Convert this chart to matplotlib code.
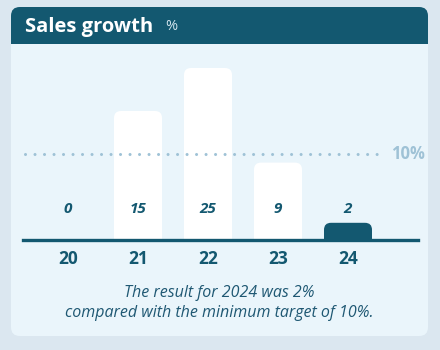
import numpy as np
import matplotlib.pyplot as plt
from matplotlib.patches import FancyBboxPatch, Rectangle

years = ['20', '21', '22', '23', '24']
growth = [0, 15, 25, 9, 2]
target = 10
display_cap = 20   # tallest bar is drawn capped
highlight = 4      # latest year

dark = '#135870'
card_bg = '#eaf5fb'
page_bg = '#dbe7f0'
ref_col = '#9fc2d6'

plt.rcParams['font.family'] = ['Open Sans', 'DejaVu Sans']

W, H = 440, 350
fig = plt.figure(figsize=(W / 100, H / 100), dpi=100)
fig.patch.set_facecolor(page_bg)

def fx(px): return px / W
def fy(py): return 1 - py / H

# card + header
card = FancyBboxPatch((fx(11), fy(336)), fx(417), (336 - 7) / H,
                      boxstyle='round,pad=0,rounding_size=0.02',
                      mutation_aspect=W / H, transform=fig.transFigure,
                      fc=card_bg, ec='none', zorder=-3)
fig.patches.append(card)
head = FancyBboxPatch((fx(11), fy(44)), fx(417), 37 / H,
                      boxstyle='round,pad=0,rounding_size=0.02',
                      mutation_aspect=W / H, transform=fig.transFigure,
                      fc=dark, ec='none', zorder=-2)
fig.patches.append(head)
fig.patches.append(Rectangle((fx(11), fy(44)), fx(417), 15 / H,
                             transform=fig.transFigure, fc=dark, ec='none',
                             zorder=-2))
fig.text(fx(25), fy(27), 'Sales growth', color='white', fontsize=14.5,
         fontweight='bold', va='center', ha='left')
fig.text(fx(165), fy(27), '%', color='#d5e6ef', fontsize=10.5,
         va='center', ha='left')

# bar area
ax = fig.add_axes([fx(23), 110 / H, fx(395), 196 / H])
ax.set_zorder(2)
ax.set_facecolor('none')
x = np.arange(len(years))
px_per_x, px_per_y = 70, 8.6
ax.set_xlim((23 - 68) / px_per_x, (418 - 68) / px_per_x)
ax.set_ylim(0, 196 / px_per_y)
for s in ax.spines.values():
    s.set_visible(False)
ax.set_yticks([])

bw = 48 / px_per_x
rad = 7 / px_per_x
heights = np.minimum(growth, display_cap)
for i, h in zip(x, heights):
    if h <= 0:
        continue
    fc = dark if i == highlight else 'white'
    ax.add_patch(FancyBboxPatch((i - bw / 2, -2), bw, h + 2,
                                boxstyle='round,pad=0,rounding_size=%g' % rad,
                                mutation_aspect=px_per_x / px_per_y,
                                fc=fc, ec='none', clip_on=True))

ax.axhline(0, color=dark, lw=2.4, zorder=3, clip_on=False)
ax.hlines(target, (25 - 68) / px_per_x, (385 - 68) / px_per_x, color=ref_col,
          lw=2.2, linestyles=[(0, (0.01, 3.1))], capstyle='round')
ax.text((391 - 68) / px_per_x, target, '%d%%' % target, color=ref_col,
        fontsize=12, fontweight='bold', va='center', ha='left')

for i, v in zip(x, growth):
    ax.text(i, 31 / px_per_y, str(v), color=dark, fontsize=11,
            fontweight='bold', fontstyle='italic', ha='center', va='center')

ax.set_xticks(x, years)
ax.tick_params(axis='x', length=0, pad=7, labelsize=12.5, labelcolor=dark)
for t in ax.get_xticklabels():
    t.set_fontweight('bold')

fig.text(fx(219), fy(293), 'The result for 2024 was 2%', color='#1f5873',
         fontsize=11.5, fontstyle='italic', ha='center', va='center')
fig.text(fx(219), fy(313), 'compared with the minimum target of 10%.',
         color='#1f5873', fontsize=11.5, fontstyle='italic',
         ha='center', va='center')

plt.savefig('out.png', dpi=100, facecolor=page_bg)
